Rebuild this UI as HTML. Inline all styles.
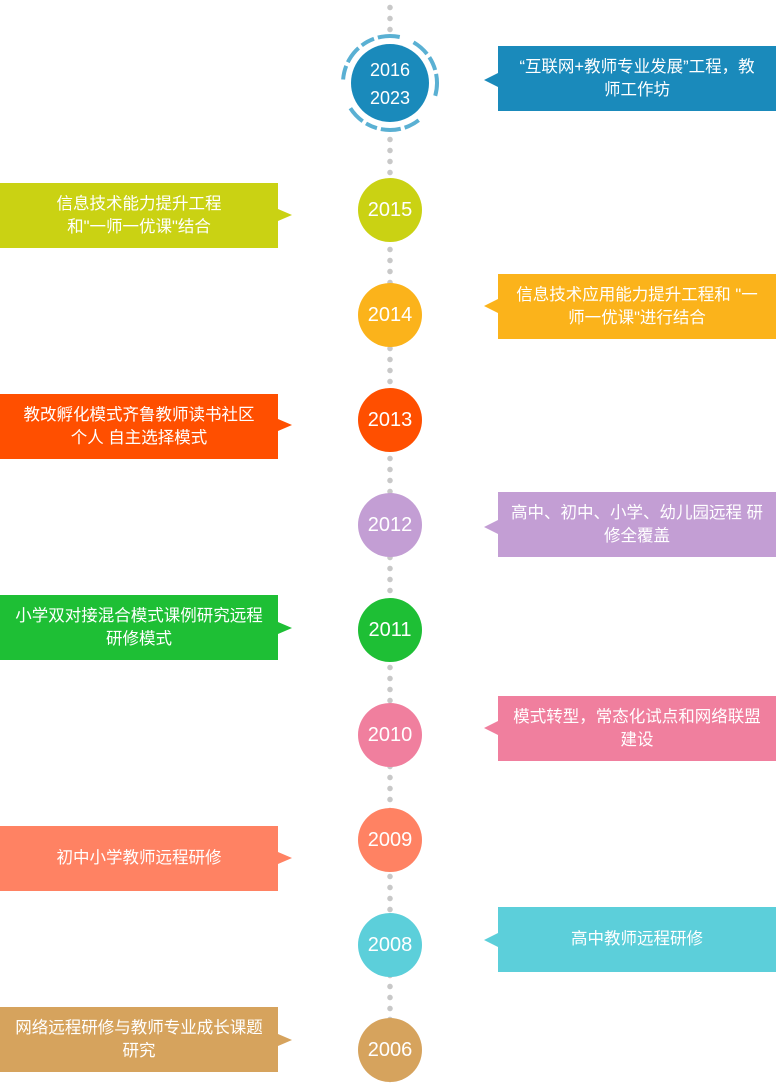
<!DOCTYPE html>
<html><head><meta charset="utf-8"><style>
body{margin:0;width:776px;height:1083px;background:#fff;position:relative;overflow:hidden;font-family:"Liberation Sans","Noto Sans CJK SC",sans-serif}
.dots{position:absolute;left:387px;top:0;width:6px;height:1083px;background:radial-gradient(circle,#c8c8c8 2.5px,transparent 3px) 0 2px/6px 11px repeat-y}
.c{position:absolute;width:64px;height:64px;border-radius:50%;left:358px;color:#fff;font-size:20px;display:flex;align-items:center;justify-content:center}
.b{position:absolute;height:65px;width:278px;color:#fff;font-size:16.5px;line-height:23px;display:flex;align-items:center;justify-content:center;text-align:center;padding:0 4px;box-sizing:border-box;white-space:nowrap}
.l{left:0}.r{left:498px}
.l:after{content:"";position:absolute;right:-14px;top:var(--t);border-left:14px solid var(--c);border-top:6px solid transparent;border-bottom:6px solid transparent}
.r:before{content:"";position:absolute;left:-14px;top:var(--t);border-right:14px solid var(--c);border-top:7px solid transparent;border-bottom:7px solid transparent}
</style></head><body>
<div class="dots"></div>
<svg style="position:absolute;left:340px;top:33px" width="100" height="100"><circle cx="50" cy="50" r="47" fill="#fff" stroke="#5ab0d3" stroke-width="4" stroke-dasharray="18 4 14 4 22 30 16 4 20 4 12 4 18 30 14 4" transform="rotate(-60 50 50)"/><circle cx="50" cy="50" r="39" fill="#1a8abb"/><text x="50" y="43" fill="#fff" font-size="18" text-anchor="middle" font-family="Liberation Sans">2016</text><text x="50" y="71" fill="#fff" font-size="18" text-anchor="middle" font-family="Liberation Sans">2023</text></svg>
<div class="b r" style="top:46px;background:#1a8abb;--c:#1a8abb;--t:27px">“互联网+教师专业发展”工程，教<br>师工作坊</div>
<div class="c" style="top:178px;background:#cad213">2015</div>
<div class="b l" style="top:183px;background:#cad213;--c:#cad213;--t:26px">信息技术能力提升工程<br>和"一师一优课"结合</div>
<div class="c" style="top:283px;background:#fbb31b">2014</div>
<div class="b r" style="top:274px;background:#fbb31b;--c:#fbb31b;--t:25px">信息技术应用能力提升工程和 "一<br>师一优课"进行结合</div>
<div class="c" style="top:388px;background:#ff4f00">2013</div>
<div class="b l" style="top:394px;background:#ff4f00;--c:#ff4f00;--t:25px">教改孵化模式齐鲁教师读书社区<br>个人 自主选择模式</div>
<div class="c" style="top:493px;background:#c39ed4">2012</div>
<div class="b r" style="top:492px;background:#c39ed4;--c:#c39ed4;--t:28px">高中、初中、小学、幼儿园远程 研<br>修全覆盖</div>
<div class="c" style="top:598px;background:#1ebf35">2011</div>
<div class="b l" style="top:595px;background:#1ebf35;--c:#1ebf35;--t:27px">小学双对接混合模式课例研究远程<br>研修模式</div>
<div class="c" style="top:703px;background:#f07f9e">2010</div>
<div class="b r" style="top:696px;background:#f07f9e;--c:#f07f9e;--t:25px">模式转型，常态化试点和网络联盟<br>建设</div>
<div class="c" style="top:808px;background:#ff8263">2009</div>
<div class="b l" style="top:826px;background:#ff8263;--c:#ff8263;--t:26px">初中小学教师远程研修</div>
<div class="c" style="top:913px;background:#5ccfda">2008</div>
<div class="b r" style="top:907px;background:#5ccfda;--c:#5ccfda;--t:26px">高中教师远程研修</div>
<div class="c" style="top:1018px;background:#d6a35d">2006</div>
<div class="b l" style="top:1007px;background:#d6a35d;--c:#d6a35d;--t:27px">网络远程研修与教师专业成长课题<br>研究</div>
</body></html>
